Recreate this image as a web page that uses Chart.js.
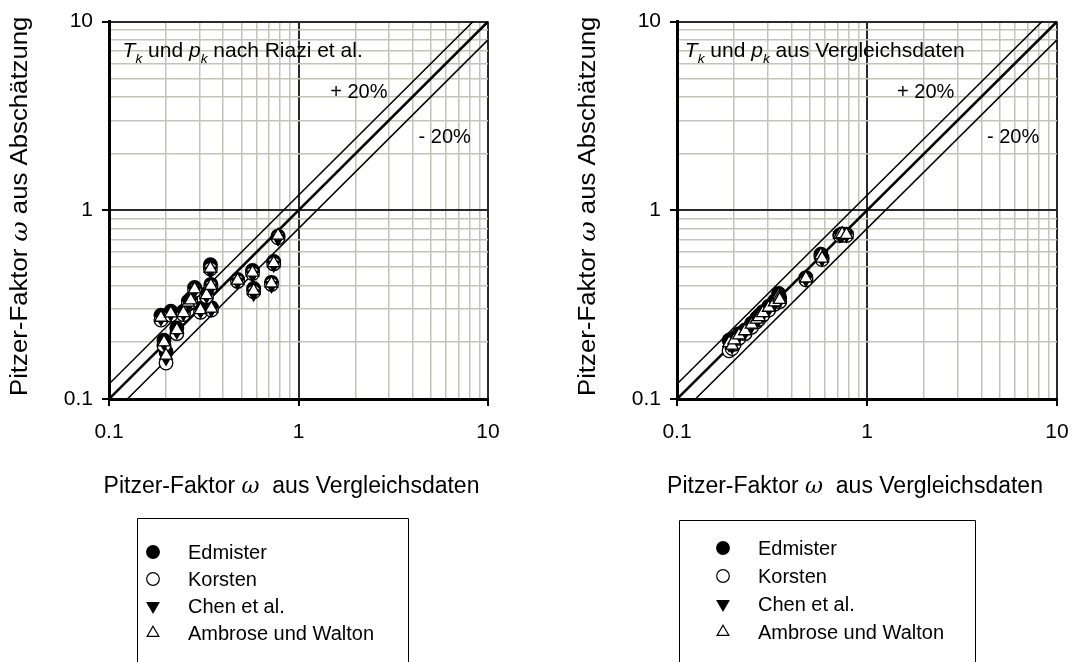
<!DOCTYPE html>
<html>
<head>
<meta charset="utf-8">
<script src="https://cdn.jsdelivr.net/npm/chart.js@4.4.1/dist/chart.umd.min.js"></script>
<style>
  html, body { margin: 0; padding: 0; background: #fff; }
  #wrap { position: relative; width: 1086px; height: 662px; overflow: hidden; }
  canvas { position: absolute; top: 0; }
</style>
</head>
<body>
<div id="wrap">
  <canvas id="left" width="543" height="662" style="left:0"></canvas>
  <canvas id="right" width="543" height="662" style="left:543px"></canvas>
</div>
<script>
// Reference Pitzer factors (omega from comparison data), one per compound
const omegaRef = [0.188, 0.195, 0.200, 0.212, 0.228, 0.247, 0.262, 0.270, 0.283, 0.304,
                  0.327, 0.343, 0.345, 0.347, 0.477, 0.572, 0.580, 0.720, 0.740, 0.780];

// Estimated omega with Tk and pk after Riazi et al.
const riaziEdmister = [0.278, 0.205, 0.178, 0.292, 0.238, 0.292, 0.330, 0.340, 0.390, 0.302,
                       0.362, 0.515, 0.405, 0.305, 0.430, 0.480, 0.385, 0.415, 0.535, 0.730];
const riaziKorsten  = [0.262, 0.192, 0.155, 0.278, 0.222, 0.280, 0.318, 0.326, 0.375, 0.288,
                       0.348, 0.488, 0.392, 0.296, 0.420, 0.462, 0.370, 0.405, 0.520, 0.715];
const riaziChen     = [0.268, 0.198, 0.165, 0.283, 0.228, 0.284, 0.322, 0.330, 0.378, 0.293,
                       0.352, 0.478, 0.388, 0.298, 0.418, 0.455, 0.362, 0.400, 0.515, 0.710];
const riaziAmbrose  = [0.270, 0.200, 0.170, 0.285, 0.232, 0.286, 0.325, 0.334, 0.382, 0.296,
                       0.356, 0.492, 0.398, 0.302, 0.425, 0.468, 0.375, 0.410, 0.525, 0.735];

// Estimated omega with Tk and pk from comparison data
const refEdmister = [0.205, 0.198, 0.210, 0.222, 0.232, 0.252, 0.268, 0.276, 0.290, 0.310,
                     0.332, 0.362, 0.350, 0.340, 0.440, 0.585, 0.560, 0.740, 0.750, 0.745];
const refKorsten  = [0.180, 0.185, 0.195, 0.210, 0.222, 0.240, 0.256, 0.264, 0.278, 0.296,
                     0.318, 0.345, 0.336, 0.328, 0.428, 0.570, 0.548, 0.735, 0.740, 0.735];
const refChen     = [0.195, 0.190, 0.200, 0.215, 0.226, 0.245, 0.260, 0.268, 0.282, 0.300,
                     0.322, 0.350, 0.340, 0.332, 0.432, 0.575, 0.552, 0.738, 0.745, 0.740];
const refAmbrose  = [0.198, 0.192, 0.205, 0.218, 0.229, 0.248, 0.264, 0.272, 0.286, 0.305,
                     0.326, 0.355, 0.345, 0.336, 0.436, 0.580, 0.556, 0.742, 0.748, 0.742];

const seriesNames = ['Edmister', 'Korsten', 'Chen et al.', 'Ambrose und Walton'];
const majorTicks = [0.1, 1, 10];
const tickLabels = ['0.1', '1', '10'];
const bandFactors = [1.2, 1.0, 0.8];   // +20 %, parity line, -20 %

const FONT = '"Liberation Sans", Arial, Helvetica, sans-serif';
const SERIF = '"DejaVu Serif", "Liberation Serif", serif';

// gridline positions: 1..9 times each decade between 0.1 and 10
const gridValues = [];
for (let e = -1; e <= 0; e++) {
  for (let m = 1; m <= 9; m++) gridValues.push(Number((m * Math.pow(10, e)).toPrecision(3)));
}
gridValues.push(10);
const isMajor = v => majorTicks.some(t => Math.abs(t - v) < 1e-9);

// marker look of each series
const markerStyles = [
  { pointStyle: 'circle',   radius: 6.8, rotation: 0,   fill: '#000', stroke: '#000' },
  { pointStyle: 'circle',   radius: 6.8, rotation: 0,   fill: '#fff', stroke: '#000' },
  { pointStyle: 'triangle', radius: 7.3, rotation: 180, fill: '#000', stroke: '#000' },
  { pointStyle: 'triangle', radius: 7.3, rotation: 0,   fill: '#fff', stroke: '#000' }
];

function toPoints(ys) { return omegaRef.map((x, i) => ({ x: x, y: ys[i] })); }

// draws a sequence of text runs (italic, subscript ...) from an anchor
function drawRuns(ctx, runs, x, y, align) {
  const fontOf = r => (r.italic ? 'italic ' : '') + (r.sub ? r.size * 0.65 : r.size) + 'px ' + (r.family || FONT);
  let total = 0;
  runs.forEach(r => { ctx.font = fontOf(r); r.w = ctx.measureText(r.t).width; total += r.w; });
  let cx = align === 'center' ? x - total / 2 : x;
  ctx.textBaseline = 'alphabetic';
  ctx.textAlign = 'left';
  runs.forEach(r => {
    ctx.font = fontOf(r);
    ctx.fillText(r.t, cx, y + (r.sub ? r.size * 0.28 : 0));
    cx += r.w;
  });
}

const textPlugin = {
  id: 'figureText',
  afterDatasetsDraw(chart, args, o) {
    const ctx = chart.ctx;
    const xs = chart.scales.x, ys = chart.scales.y, area = chart.chartArea;
    ctx.save();
    ctx.fillStyle = '#000';
    // in-plot notes, placed in data coordinates
    o.notes.forEach(n => {
      drawRuns(ctx, n.runs, xs.getPixelForValue(n.x), ys.getPixelForValue(n.y) + 7, 'left');
    });
    // axis titles
    const omega = { t: 'ω', size: 22, italic: true, family: SERIF };
    drawRuns(ctx, [{ t: 'Pitzer-Faktor ', size: 23 }, omega, { t: '  aus Vergleichsdaten', size: 23 }],
      (area.left + area.right) / 2 + o.xTitleShift, 493, 'center');
    ctx.translate(o.yTitleX, (area.top + area.bottom) / 2 - 4);
    ctx.rotate(-Math.PI / 2);
    ctx.scale(1.12, 1);
    drawRuns(ctx, [{ t: 'Pitzer-Faktor ', size: 23 }, omega, { t: ' aus Abschätzung', size: 23 }], 0, 8, 'center');
    ctx.restore();
  },
  afterDraw(chart, args, o) {
    // legend box below the plot
    const ctx = chart.ctx, L = o.legend;
    ctx.save();
    ctx.strokeStyle = '#000';
    ctx.lineWidth = 1;
    ctx.beginPath();
    ctx.moveTo(L.x + 0.5, chart.height + 2);
    ctx.lineTo(L.x + 0.5, L.y + 0.5);
    ctx.lineTo(L.x + L.w + 0.5, L.y + 0.5);
    ctx.lineTo(L.x + L.w + 0.5, chart.height + 2);
    ctx.stroke();
    ctx.font = '20px ' + FONT;
    ctx.textBaseline = 'middle';
    seriesNames.forEach((name, i) => {
      const s = markerStyles[i];
      const y = L.y + L.first + i * L.step;
      ctx.fillStyle = s.fill;
      ctx.strokeStyle = s.stroke;
      ctx.lineWidth = 1.2;
      Chart.helpers.drawPoint(ctx, { pointStyle: s.pointStyle, radius: s.radius - 0.5, rotation: s.rotation, borderWidth: 1.2 },
        L.x + L.sym, y);
      ctx.fillStyle = '#000';
      ctx.fillText(name, L.x + L.text, y + 1);
    });
    ctx.restore();
  }
};

function makeChart(id, series, cfg) {
  const lines = bandFactors.map(f => ({
    data: [{ x: 0.1, y: 0.1 * f }, { x: 10, y: 10 * f }],
    showLine: true, borderColor: '#000', borderWidth: f === 1 ? 2.6 : 1.5,
    pointRadius: 0, order: 10
  }));
  const marks = series.map((ys, i) => ({
    label: seriesNames[i],
    data: toPoints(ys),
    pointStyle: markerStyles[i].pointStyle,
    pointRotation: markerStyles[i].rotation,
    pointRadius: markerStyles[i].radius,
    pointBackgroundColor: markerStyles[i].fill,
    pointBorderColor: markerStyles[i].stroke,
    pointBorderWidth: 1.3,
    showLine: false,
    order: 4 - i
  }));
  const axis = (fitW, fitH, pad) => ({
    type: 'logarithmic', min: 0.1, max: 10,
    afterBuildTicks: s => { s.ticks = gridValues.map(v => ({ value: v })); },
    afterFit: s => { if (fitW) s.width = fitW; if (fitH) s.height = fitH; },
    ticks: {
      autoSkip: false, maxRotation: 0, minRotation: 0, padding: pad,
      color: '#000', font: { family: FONT, size: 21 },
      callback: v => { const k = majorTicks.findIndex(t => Math.abs(t - v) < 1e-9); return k >= 0 ? tickLabels[k] : ''; }
    },
    grid: {
      color: c => isMajor(c.tick.value) ? '#2a2a2a' : '#c4c4b6',
      lineWidth: c => isMajor(c.tick.value) ? 2 : 1.5,
      tickColor: c => isMajor(c.tick.value) ? '#000' : 'rgba(0,0,0,0)',
      tickLength: 7, drawTicks: true
    },
    border: { display: true, color: '#000', width: 3 }
  });
  return new Chart(document.getElementById(id), {
    type: 'scatter',
    data: { datasets: lines.concat(marks) },
    options: {
      responsive: false, animation: false, devicePixelRatio: 1,
      layout: { padding: { top: 21, right: cfg.padRight, left: 0, bottom: 0 } },
      scales: { x: axis(0, 263, 14), y: axis(cfg.yWidth, 0, 9) },
      plugins: { legend: { display: false }, tooltip: { enabled: false }, figureText: cfg.text }
    },
    plugins: [textPlugin]
  });
}

const noteRuns = tail => [
  { t: 'T', size: 21, italic: true }, { t: 'k', size: 21, italic: true, sub: true },
  { t: ' und ', size: 21 }, { t: 'p', size: 21, italic: true }, { t: 'k', size: 21, italic: true, sub: true },
  { t: tail, size: 21 }
];

makeChart('left', [riaziEdmister, riaziKorsten, riaziChen, riaziAmbrose], {
  padRight: 55, yWidth: 109,
  text: {
    notes: [
      { x: 0.118, y: 7.1, runs: noteRuns(' nach Riazi et al.') },
      { x: 1.47, y: 4.3, runs: [{ t: '+ 20%', size: 20 }] },
      { x: 4.3, y: 2.49, runs: [{ t: '- 20%', size: 20 }] }
    ],
    xTitleShift: -7, yTitleX: 19,
    legend: { x: 137, y: 518, w: 271, first: 34, step: 27, sym: 16, text: 51 }
  }
});

makeChart('right', [refEdmister, refKorsten, refChen, refAmbrose], {
  padRight: 29, yWidth: 134,
  text: {
    notes: [
      { x: 0.110, y: 7.1, runs: noteRuns(' aus Vergleichsdaten') },
      { x: 1.44, y: 4.3, runs: [{ t: '+ 20%', size: 20 }] },
      { x: 4.28, y: 2.49, runs: [{ t: '- 20%', size: 20 }] }
    ],
    xTitleShift: -12, yTitleX: 44,
    legend: { x: 136, y: 520, w: 296, first: 28, step: 28, sym: 44, text: 79 }
  }
});
</script>
</body>
</html>
